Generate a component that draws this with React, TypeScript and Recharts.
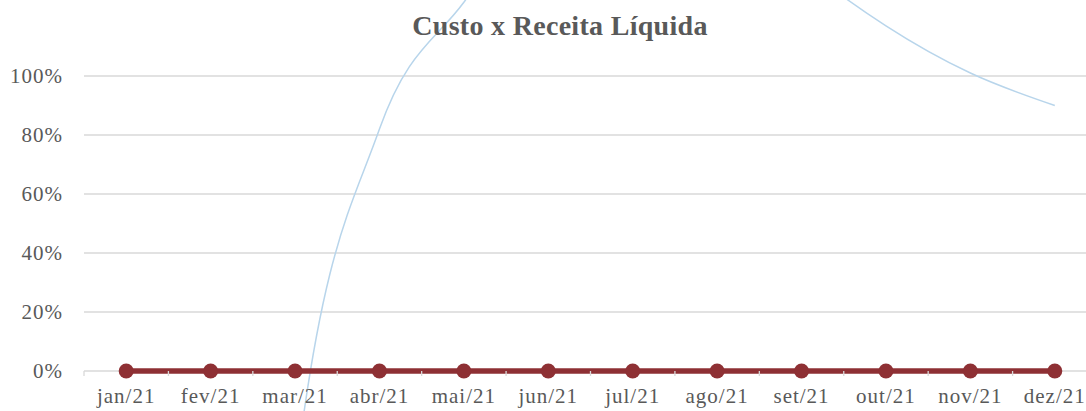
import React from "react";
import { CartesianGrid, Line, LineChart, XAxis, YAxis } from "recharts";

const months = ["jan/21", "fev/21", "mar/21", "abr/21", "mai/21", "jun/21", "jul/21", "ago/21", "set/21", "out/21", "nov/21", "dez/21"];
const custoReceita = [0, 0, 0, 0, 0, 0, 0, 0, 0, 0, 0, 0];
// light blue series, mostly off the visible range
const serieAzul = [null, -4, -0.37, 0.82, 1.25, 1.6, 1.72, 1.66, 1.38, 1.17, 1.01, 0.9];
const yTicks = [0, 0.2, 0.4, 0.6, 0.8, 1];

const W = 1120;
const H = 411;
const M = { top: 76, right: 23, left: 0, bottom: 0 };
const Y_W = 84;
const STEP = (W - M.right - Y_W) / months.length;

const font = "'Liberation Serif', 'Times New Roman', serif";
const textColor = "#595959";
const gridColor = "#D9D9D9";

const data = months.map((m, i) => ({ month: m, custo: custoReceita[i], azul: serieAzul[i] }));

function MonthTick(props: any) {
  const { x, y, payload, index } = props;
  const axisY = y - 17;
  const half = STEP / 2;
  return (
    <g>
      <line x1={x - half} x2={x - half} y1={axisY} y2={axisY + 5} stroke={gridColor} strokeWidth={1.3} />
      {index === months.length - 1 && (
        <line x1={x + half} x2={x + half} y1={axisY} y2={axisY + 5} stroke={gridColor} strokeWidth={1.3} />
      )}
      <text x={x} y={y} dy="0.71em" textAnchor="middle" fill={textColor} fontSize={21} fontFamily={font} letterSpacing={1}>
        {payload.value}
      </text>
    </g>
  );
}

export default function App() {
  return (
    <div style={{ position: "absolute", left: 0, top: 0, width: W, height: H, background: "#fff" }}>
      <style>{`.cxr svg * { clip-path: none !important; }`}</style>
      <div className="cxr">
        <LineChart width={W} height={H} data={data} margin={M}>
          <CartesianGrid vertical={false} stroke={gridColor} strokeWidth={1.3} />
          <XAxis
            dataKey="month"
            scale="band"
            height={40}
            interval={0}
            tickSize={0}
            tickMargin={17}
            tickLine={false}
            axisLine={false}
            tick={<MonthTick />}
          />
          <YAxis
            width={Y_W}
            domain={[0, 1]}
            allowDataOverflow
            ticks={yTicks}
            tickFormatter={(v: number) => `${Math.round(v * 100)}%`}
            axisLine={false}
            tickLine={false}
            tickSize={0}
            tickMargin={21}
            tick={{ fill: textColor, fontSize: 21, fontFamily: font, letterSpacing: 1 }}
          />
          <Line
            dataKey="azul"
            type="monotone"
            stroke="#B8D5EB"
            strokeWidth={1.5}
            dot={false}
            activeDot={false}
            isAnimationActive={false}
          />
          <Line
            dataKey="custo"
            type="linear"
            stroke="#8E3034"
            strokeWidth={5.5}
            dot={{ r: 7.5, fill: "#8E3034", stroke: "#8E3034", strokeWidth: 0 }}
            activeDot={false}
            isAnimationActive={false}
          />
        </LineChart>
      </div>
      <svg width={W} height={60} style={{ position: "absolute", left: 0, top: 0, pointerEvents: "none" }}>
        <text x={560} y={35} textAnchor="middle" fill={textColor} fontSize={28} fontWeight="bold" fontFamily={font} letterSpacing={0.3}>
          Custo x Receita Líquida
        </text>
      </svg>
    </div>
  );
}
